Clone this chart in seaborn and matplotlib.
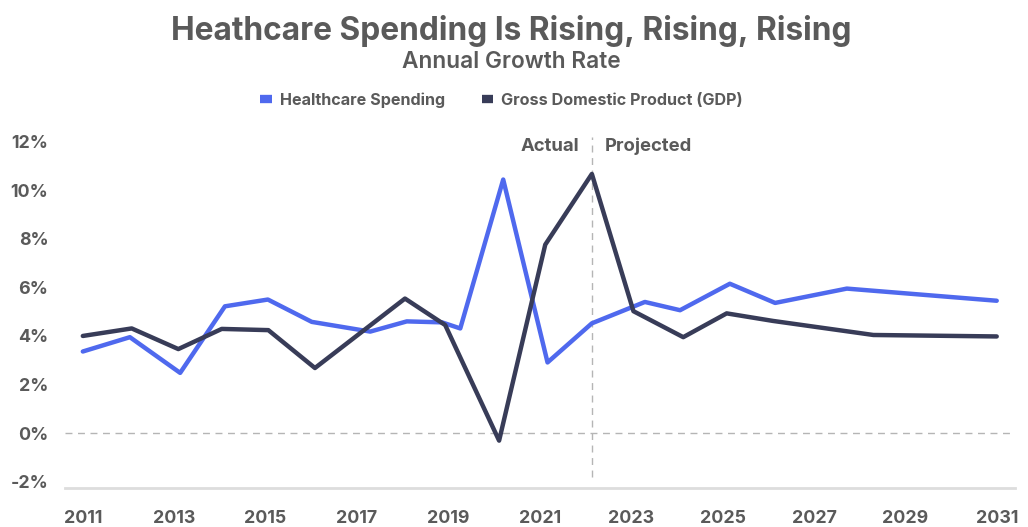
import matplotlib
matplotlib.use("Agg")
import matplotlib.pyplot as plt
import seaborn as sns
import pandas as pd
from matplotlib.ticker import FuncFormatter
from matplotlib.lines import Line2D

# ---- data ----
hc_years = [2011.0, 2012.03, 2013.13, 2014.11, 2015.05, 2016.01, 2017.29, 2018.09, 2018.86,
            2019.26, 2020.2, 2021.17, 2022.14, 2023.3, 2024.07, 2025.16, 2026.15, 2027.72, 2031.0]
hc_values = [3.36, 3.95, 2.48, 5.22, 5.5, 4.58, 4.18, 4.6, 4.56,
             4.31, 10.44, 2.91, 4.52, 5.4, 5.06, 6.15, 5.36, 5.95, 5.45]

gdp_years = [2011.0, 2012.07, 2013.09, 2014.04, 2015.06, 2016.08, 2018.05, 2018.93, 2020.11,
             2021.12, 2022.14, 2023.05, 2024.14, 2025.09, 2026.1, 2028.3, 2031.0]
gdp_values = [4.0, 4.31, 3.46, 4.29, 4.24, 2.68, 5.54, 4.45, -0.31,
              7.76, 10.67, 5.02, 3.95, 4.93, 4.62, 4.04, 3.98]

series_names = ["Healthcare Spending", "Gross Domestic Product (GDP)"]
x_ticks = [2011, 2013, 2015, 2017, 2019, 2021, 2023, 2025, 2027, 2029, 2031]
y_ticks = [-2, 0, 2, 4, 6, 8, 10, 12]
split_year = 2022.14
title = "Heathcare Spending Is Rising, Rising, Rising"
subtitle = "Annual Growth Rate"

df = pd.concat([
    pd.DataFrame({"Year": hc_years, "Growth": hc_values, "Series": series_names[0]}),
    pd.DataFrame({"Year": gdp_years, "Growth": gdp_values, "Series": series_names[1]}),
], ignore_index=True)

# ---- style ----
sns.set_theme(style="white")
plt.rcParams["font.family"] = ["Inter", "DejaVu Sans"]
text_grey = "#5a5a5a"
palette = {series_names[0]: "#4F69EE", series_names[1]: "#383C58"}

fig = plt.figure(figsize=(10.28, 5.27), dpi=100)
ax = fig.add_axes([65 / 1028, 1 - 488 / 527, (1015 - 65) / 1028, (488 - 130) / 527])

sns.lineplot(data=df, x="Year", y="Growth", hue="Series", palette=palette,
             estimator=None, sort=True, linewidth=3.2, ax=ax, legend=False,
             solid_capstyle="round", solid_joinstyle="round")

ax.set_xlim(2010.61, 2031.4)
ax.set_ylim(-2.26, 12.48)

# zero line and actual/projected divider
ax.axhline(0, color="#b5b5b5", lw=1.0, ls=(0, (5, 4)), zorder=0)
ax.plot([split_year, split_year], [-1.8, 12.2], color="#b5b5b5", lw=1.0,
        ls=(0, (5, 4)), zorder=0)
ax.text(split_year - 0.28, 11.8, "Actual", ha="right", va="center",
        fontsize=13.3, fontweight="bold", color=text_grey)
ax.text(split_year + 0.28, 11.8, "Projected", ha="left", va="center",
        fontsize=13.3, fontweight="bold", color=text_grey)

ax.set_xticks(x_ticks)
ax.set_yticks(y_ticks)
ax.yaxis.set_major_formatter(FuncFormatter(lambda v, p: f"{v:.0f}%"))
ax.tick_params(axis="x", length=0, pad=15.5, labelsize=12.8, labelcolor=text_grey)
ax.tick_params(axis="y", length=0, pad=12, labelsize=12.8, labelcolor=text_grey)
for lab in ax.get_xticklabels() + ax.get_yticklabels():
    lab.set_fontweight("bold")
ax.set_xlabel("")
ax.set_ylabel("")
for s in ["top", "right", "left"]:
    ax.spines[s].set_visible(False)
ax.spines["bottom"].set_color("#dddddd")
ax.spines["bottom"].set_linewidth(2)

# titles
fig.text(0.497, 1 - 31 / 527, title, ha="center", va="center", fontsize=22.8,
         fontweight="bold", color=text_grey)
fig.text(0.497, 1 - 62 / 527, subtitle, ha="center", va="center", fontsize=16.3,
         fontweight="semibold", color=text_grey)

# legend
handles = [Line2D([0], [0], color=palette[n], lw=6, solid_capstyle="butt") for n in series_names]
leg = fig.legend(handles, series_names, loc="center", bbox_to_anchor=(0.488, 1 - 100 / 527),
                 ncol=2, frameon=False, handlelength=0.7, handletextpad=0.5,
                 columnspacing=2.3, prop={"size": 11.6, "weight": "bold"})
for t in leg.get_texts():
    t.set_color(text_grey)

fig.savefig("out.png", dpi=100)
